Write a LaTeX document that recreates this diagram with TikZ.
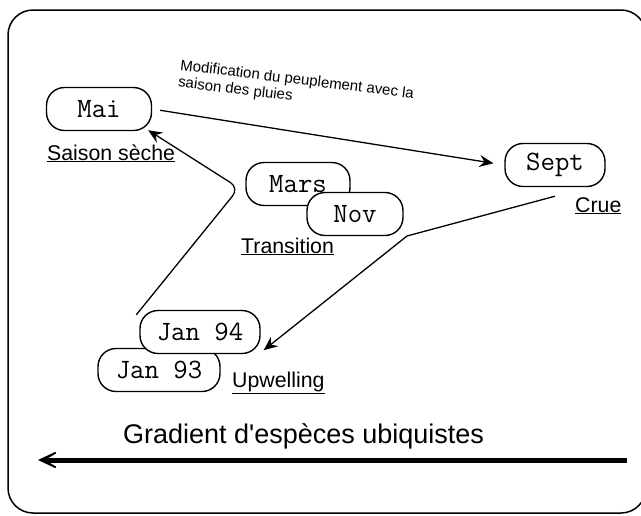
\documentclass[tikz,border=0pt]{standalone}
\usepackage{fontspec}
\setmainfont{Liberation Sans}[Ligatures=TeXOff]
\usetikzlibrary{arrows.meta}
\begin{document}
\begin{tikzpicture}[x=1pt,y=-1pt,
  box/.style={draw, line width=1.4pt, rounded corners=18pt, fill=white, minimum height=43pt, inner sep=0pt, font=\ttfamily\fontsize{28}{28}\selectfont},
  lab/.style={anchor=base west, inner sep=0pt, font=\fontsize{21.3}{21.3}\selectfont},
  arr/.style={line width=1.3pt, -{Stealth[length=14pt,width=12pt,inset=5pt]}},
  thick arrow/.style={line width=5pt, -{Stealth[length=34pt,width=32pt,inset=27pt]}},
]
\clip (0,0) rectangle (641,515);
\draw[line width=1.5pt, rounded corners=25pt] (8,10) rectangle (646,513);

\node[box, minimum width=105pt] (mai) at (99,109) {Mai};
\node[box, minimum width=100pt] (sept) at (555,165) {Sept};
\node[box, minimum width=104pt] (mars) at (298,184) {Mars};
\node[box, minimum width=96pt] (nov) at (355,214) {Nov};
\node[box, minimum width=122pt] (jan93) at (159,370) {Jan 93};
\node[box, minimum width=120pt] (jan94) at (200,332) {Jan 94};

\node[lab] (saison) at (47,160) {\underline{Saison sèche}};
\node[lab] (crue) at (575,212) {\underline{Crue}};
\node[lab] (trans) at (241,253) {\underline{Transition}};
\node[lab] (upw) at (232,387) {\underline{Upwelling}};

\node[anchor=north west, rotate=-7, align=left, inner sep=0pt, font=\fontsize{15}{17}\selectfont] (modif) at (181,59) {Modification du peuplement avec la\\saison des pluies};

\node[anchor=base west, inner sep=0pt, font=\fontsize{27}{27}\selectfont] (grad) at (123,443) {Gradient d'espèces ubiquistes};

\draw[arr, shorten <=8pt, shorten >=11pt] (mai.east) -- (sept.west);

\coordinate (b1) at (239,188);
\draw[arr, rounded corners=10pt] ([xshift=-3pt,yshift=-5pt]jan94.north west) -- (b1) -- ([xshift=-4pt,yshift=1pt]mai.south east);

\coordinate (b2) at (407,236);
\draw[arr] ([yshift=-9pt]sept.south) -- (b2) -- ([xshift=3pt,yshift=4pt]jan94.south east);

\coordinate (gs) at (627,460);
\coordinate (ge) at (38,460);
\draw[thick arrow] (gs) -- (ge);
\end{tikzpicture}
\end{document}
